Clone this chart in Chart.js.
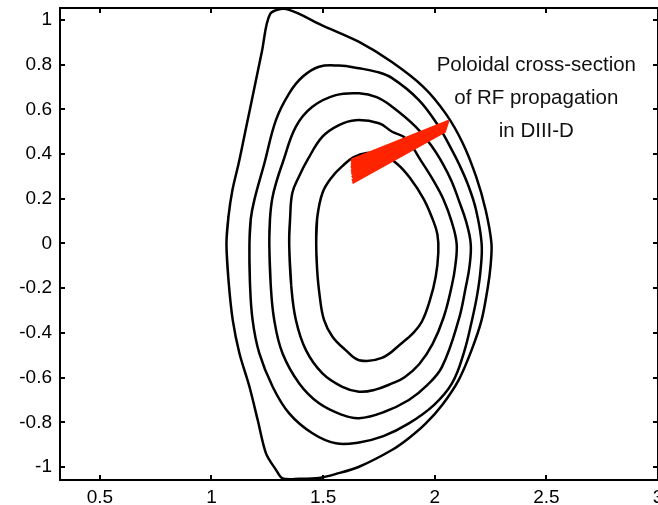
<!DOCTYPE html>
<html>
<head>
<meta charset="utf-8">
<script src="https://cdn.jsdelivr.net/npm/chart.js@4/dist/chart.umd.min.js"></script>
<style>
  html, body { margin: 0; padding: 0; background: #ffffff; }
  #wrap { width: 658px; height: 505px; position: relative; }
</style>
</head>
<body>
<div id="wrap"><canvas id="c" width="658" height="505"></canvas></div>
<script>
// Flux surfaces (R, Z), outermost first; each list closes on its first point
const surf1R = [1.067, 1.076, 1.094, 1.122, 1.147, 1.172, 1.197, 1.226, 1.263, 1.335, 1.498, 1.661, 1.808, 1.950, 2.050, 2.125, 2.185, 2.228, 2.254, 2.250, 2.237, 2.210, 2.165, 2.107, 2.035, 1.960, 1.885, 1.808, 1.661, 1.558, 1.482, 1.393, 1.318, 1.289, 1.244, 1.207, 1.170, 1.125, 1.095, 1.076, 1.067];
const surf1Z = [0.000, 0.120, 0.240, 0.360, 0.480, 0.600, 0.720, 0.860, 1.027, 1.049, 0.975, 0.902, 0.812, 0.700, 0.580, 0.450, 0.300, 0.150, 0.000, -0.100, -0.200, -0.342, -0.477, -0.611, -0.720, -0.805, -0.870, -0.924, -0.999, -1.031, -1.049, -1.053, -1.051, -1.013, -0.939, -0.790, -0.641, -0.491, -0.342, -0.163, 0.000];

const surf2R = [1.170, 1.176, 1.192, 1.237, 1.289, 1.348, 1.408, 1.482, 1.571, 1.661, 1.740, 1.809, 1.929, 2.018, 2.077, 2.107, 2.150, 2.185, 2.210, 2.205, 2.190, 2.167, 2.130, 2.077, 1.996, 1.884, 1.770, 1.661, 1.557, 1.452, 1.348, 1.274, 1.214, 1.184, 1.172, 1.170];
const surf2Z = [0.000, 0.110, 0.195, 0.359, 0.553, 0.672, 0.746, 0.791, 0.796, 0.784, 0.768, 0.740, 0.642, 0.523, 0.418, 0.359, 0.260, 0.150, 0.000, -0.120, -0.230, -0.342, -0.490, -0.626, -0.723, -0.805, -0.862, -0.890, -0.894, -0.849, -0.760, -0.641, -0.491, -0.342, -0.170, 0.000];

const surf3R = [1.259, 1.262, 1.272, 1.292, 1.318, 1.378, 1.452, 1.557, 1.661, 1.740, 1.809, 1.914, 1.988, 2.035, 2.075, 2.107, 2.140, 2.161, 2.156, 2.138, 2.107, 2.033, 1.965, 1.884, 1.770, 1.661, 1.586, 1.482, 1.393, 1.318, 1.281, 1.265, 1.259];
const surf3Z = [0.000, 0.110, 0.200, 0.280, 0.359, 0.523, 0.612, 0.664, 0.672, 0.655, 0.612, 0.523, 0.433, 0.359, 0.280, 0.195, 0.100, 0.000, -0.100, -0.200, -0.342, -0.551, -0.635, -0.700, -0.755, -0.782, -0.767, -0.715, -0.626, -0.491, -0.342, -0.180, 0.000];

const surf4R = [1.348, 1.352, 1.362, 1.392, 1.430, 1.497, 1.571, 1.646, 1.750, 1.809, 1.869, 1.943, 1.995, 2.040, 2.075, 2.098, 2.092, 2.077, 2.040, 1.990, 1.930, 1.865, 1.809, 1.730, 1.661, 1.586, 1.497, 1.423, 1.378, 1.357, 1.348];
const surf4Z = [0.000, 0.110, 0.226, 0.300, 0.374, 0.478, 0.530, 0.552, 0.538, 0.500, 0.471, 0.363, 0.280, 0.195, 0.100, 0.000, -0.100, -0.186, -0.330, -0.450, -0.540, -0.598, -0.626, -0.655, -0.663, -0.641, -0.581, -0.477, -0.342, -0.186, 0.000];

const surf5R = [1.469, 1.473, 1.497, 1.540, 1.585, 1.635, 1.695, 1.763, 1.832, 1.890, 1.950, 1.990, 2.012, 2.016, 2.004, 1.978, 1.942, 1.902, 1.853, 1.763, 1.661, 1.601, 1.542, 1.504, 1.484, 1.473, 1.469];
const surf5Z = [0.000, 0.110, 0.226, 0.298, 0.345, 0.385, 0.405, 0.398, 0.356, 0.292, 0.200, 0.110, 0.040, -0.040, -0.150, -0.255, -0.350, -0.402, -0.445, -0.512, -0.522, -0.477, -0.417, -0.342, -0.230, -0.115, 0.000];

// RF ray bundle: launch point and end point of each ray
const rayStartR = [2.063, 2.062, 2.061, 2.060, 2.059, 2.058, 2.057, 2.056, 2.055, 2.054, 2.053, 2.052, 2.051, 2.050, 2.049, 2.048];
const rayStartZ = [0.549, 0.546, 0.543, 0.540, 0.537, 0.534, 0.531, 0.528, 0.525, 0.522, 0.519, 0.516, 0.513, 0.510, 0.506, 0.503];
const rayEndR   = [1.626, 1.624, 1.627, 1.625, 1.626, 1.624, 1.628, 1.625, 1.628, 1.626, 1.631, 1.628, 1.634, 1.629, 1.633, 1.631];
const rayEndZ   = [0.374, 0.367, 0.360, 0.353, 0.346, 0.339, 0.332, 0.325, 0.318, 0.311, 0.304, 0.297, 0.290, 0.283, 0.277, 0.271];

// Axis ticks
const xTicks = [0.5, 1, 1.5, 2, 2.5, 3];
const yTicks = [-1, -0.8, -0.6, -0.4, -0.2, 0, 0.2, 0.4, 0.6, 0.8, 1];

// Caption lines
const noteLines = ['Poloidal cross-section', 'of RF propagation', 'in DIII-D'];

// Closed contour: wrap one point on each side so the spline stays smooth where the loop joins
const loopPoints = (rs, zs) => {
  const pts = rs.map((r, i) => ({ x: r, y: zs[i] }));
  const n = pts.length;
  return [pts[n - 2], ...pts, pts[1]];
};

const surfaces = [
  [surf1R, surf1Z, 0.3],
  [surf2R, surf2Z, 0.4],
  [surf3R, surf3Z, 0.4],
  [surf4R, surf4Z, 0.4],
  [surf5R, surf5Z, 0.4]
];

const datasets = [];
surfaces.forEach(([rs, zs, t]) => {
  datasets.push({
    data: loopPoints(rs, zs),
    showLine: true,
    borderColor: '#000000',
    borderWidth: 2.5,
    pointRadius: 0,
    tension: t,
    fill: false,
    order: 2
  });
});
rayStartR.forEach((r0, i) => {
  datasets.push({
    data: [{ x: r0, y: rayStartZ[i] }, { x: rayEndR[i], y: rayEndZ[i] }],
    showLine: true,
    borderColor: 'rgb(255,36,0)',
    borderWidth: 2.5,
    pointRadius: 0,
    tension: 0,
    fill: false,
    order: 1
  });
});

const tickFont = { family: '"Liberation Sans", Arial, sans-serif', size: 19 };

// Box around the plot with inward tick marks on all four sides
const framePlugin = {
  id: 'frame',
  afterDatasetsDraw(chart) {
    const { ctx, chartArea: a, scales } = chart;
    const xs = scales.x, ys = scales.y;
    const len = 5;
    ctx.save();
    ctx.strokeStyle = '#000000';
    ctx.lineWidth = 2;
    ctx.strokeRect(a.left, a.top, a.right - a.left, a.bottom - a.top);
    ctx.beginPath();
    xs.ticks.forEach(t => {
      const p = Math.round(xs.getPixelForValue(t.value));
      ctx.moveTo(p, a.bottom); ctx.lineTo(p, a.bottom - len);
      ctx.moveTo(p, a.top); ctx.lineTo(p, a.top + len);
    });
    ys.ticks.forEach(t => {
      const p = Math.round(ys.getPixelForValue(t.value));
      ctx.moveTo(a.left, p); ctx.lineTo(a.left + len, p);
      ctx.moveTo(a.right, p); ctx.lineTo(a.right - len, p);
    });
    ctx.stroke();
    ctx.restore();
  }
};

// Three-line caption placed in data coordinates
const notePlugin = {
  id: 'note',
  afterDatasetsDraw(chart) {
    const { ctx, scales } = chart;
    const cx = scales.x.getPixelForValue(2.455);
    const y0 = scales.y.getPixelForValue(0.773);
    ctx.save();
    ctx.fillStyle = '#111111';
    ctx.font = '20.5px "Liberation Sans", Arial, sans-serif';
    ctx.textAlign = 'center';
    ctx.textBaseline = 'alphabetic';
    noteLines.forEach((s, i) => ctx.fillText(s, cx, y0 + i * 33.3));
    ctx.restore();
  }
};

new Chart(document.getElementById('c'), {
  type: 'scatter',
  data: { datasets },
  options: {
    responsive: false,
    devicePixelRatio: 1,
    animation: false,
    layout: { padding: { top: 8, right: -2, left: 0, bottom: 0 } },
    plugins: { legend: { display: false }, tooltip: { enabled: false } },
    scales: {
      x: {
        type: 'linear',
        min: 0.3214,
        max: 3,
        grid: { display: false, drawTicks: false },
        border: { display: false },
        afterBuildTicks: s => { s.ticks = xTicks.map(v => ({ value: v })); },
        afterFit: s => { s.height = 25; s.paddingLeft = 0; s.paddingRight = 0; },
        ticks: { font: tickFont, color: '#000000', padding: 6, maxRotation: 0, autoSkip: false,
                 callback: v => String(v) }
      },
      y: {
        type: 'linear',
        min: -1.0582,
        max: 1.0537,
        grid: { display: false, drawTicks: false },
        border: { display: false },
        afterBuildTicks: s => { s.ticks = yTicks.map(v => ({ value: v })); },
        afterFit: s => { s.width = 60; s.paddingTop = 0; s.paddingBottom = 0; },
        ticks: { font: tickFont, color: '#000000', padding: 8, autoSkip: false,
                 callback: v => String(v) }
      }
    }
  },
  plugins: [framePlugin, notePlugin]
});
</script>
</body>
</html>
